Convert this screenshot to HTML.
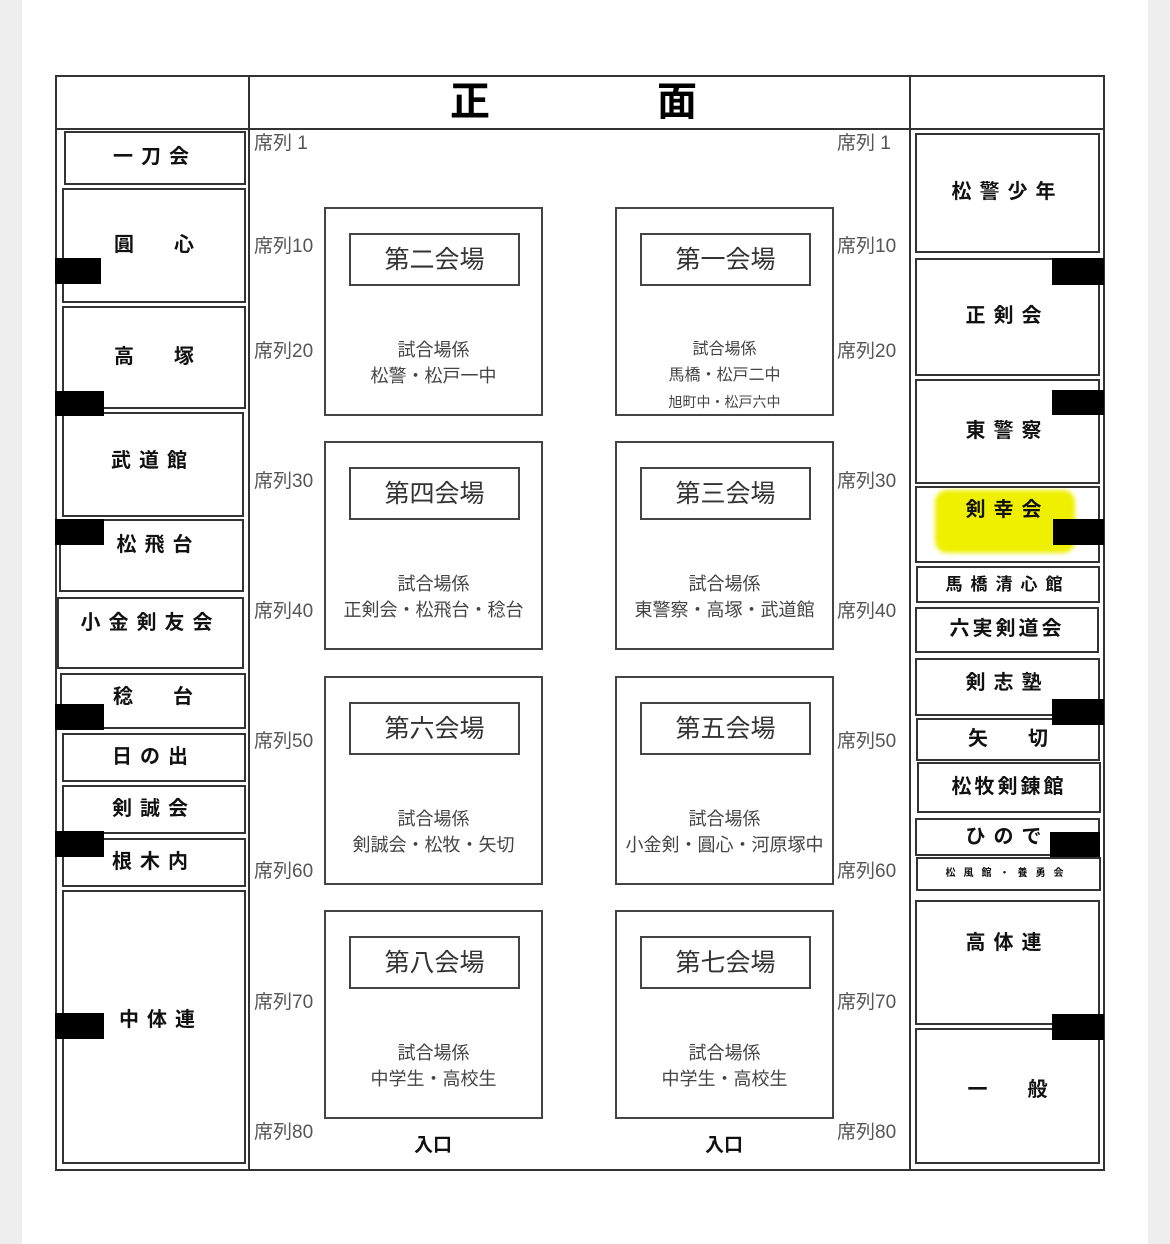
<!DOCTYPE html>
<html><head><meta charset="utf-8"><style>
body{margin:0;width:1170px;height:1244px;position:relative;background:#fff;font-family:"Liberation Sans","Noto Sans CJK JP",sans-serif;overflow:hidden}
.a{position:absolute;box-sizing:border-box}
.b{border:2px solid #333;background:#fff;display:flex;align-items:center;justify-content:center;font-weight:bold;font-size:20px;color:#111;letter-spacing:8px;padding-bottom:7px}
.k{background:#000}
.s{position:absolute;font-size:19px;color:#555}
.court{position:absolute;border:2px solid #444;width:219px;height:209px;box-sizing:border-box}
.court .t{position:absolute;left:23px;top:24px;width:171px;height:53px;border:2px solid #444;box-sizing:border-box;display:flex;align-items:center;justify-content:center;font-size:25px;color:#333;padding-bottom:3px}
.court .c{position:absolute;left:0;right:0;top:128px;text-align:center;font-size:18px;color:#444;line-height:26px}
.ent{position:absolute;font-weight:bold;font-size:19px;color:#111}
.h{position:absolute;top:80px;font-size:40px;font-weight:bold;line-height:44px}
</style></head><body>
<div class="a" style="left:0;top:0;width:22px;height:1244px;background:#eee"></div>
<div class="a" style="left:1148px;top:0;width:22px;height:1244px;background:#eee"></div>
<div class="a" style="left:55px;top:75px;width:1050px;height:1096px;border:2px solid #333"></div>
<div class="a" style="left:55px;top:128px;width:1050px;height:2px;background:#333"></div>
<div class="a" style="left:248px;top:75px;width:2px;height:1096px;background:#333"></div>
<div class="a" style="left:909px;top:75px;width:2px;height:1096px;background:#333"></div>
<div class="h" style="left:450px">正</div>
<div class="h" style="left:657px">面</div>

<div class="a b" style="left:64px;top:131px;width:182px;height:54px">一刀会</div>
<div class="a b" style="left:62px;top:188px;width:184px;height:115px;letter-spacing:40px;padding-left:40px">圓心</div>
<div class="a b" style="left:62px;top:306px;width:184px;height:103px;letter-spacing:40px;padding-left:40px">高塚</div>
<div class="a b" style="left:62px;top:412px;width:182px;height:105px;align-items:flex-start;padding-top:30px">武道館</div>
<div class="a b" style="left:59px;top:519px;width:185px;height:73px;align-items:flex-start;padding-top:7px;padding-left:14px">松飛台</div>
<div class="a b" style="left:57px;top:597px;width:187px;height:72px;align-items:flex-start;padding-top:7px">小金剣友会</div>
<div class="a b" style="left:60px;top:673px;width:186px;height:56px;align-items:flex-start;padding-top:5px;letter-spacing:40px;padding-left:40px">稔台</div>
<div class="a b" style="left:62px;top:733px;width:184px;height:49px">日の出</div>
<div class="a b" style="left:62px;top:785px;width:184px;height:49px">剣誠会</div>
<div class="a b" style="left:62px;top:838px;width:184px;height:49px">根木内</div>
<div class="a b" style="left:62px;top:890px;width:184px;height:274px;padding-left:14px;padding-bottom:20px">中体連</div>
<div class="a k" style="left:55px;top:258px;width:46px;height:26px"></div>
<div class="a k" style="left:55px;top:391px;width:49px;height:25px"></div>
<div class="a k" style="left:55px;top:519px;width:49px;height:26px"></div>
<div class="a k" style="left:55px;top:704px;width:49px;height:26px"></div>
<div class="a k" style="left:55px;top:831px;width:49px;height:26px"></div>
<div class="a k" style="left:55px;top:1013px;width:49px;height:26px"></div>

<div class="a" style="left:935px;top:490px;width:140px;height:63px;background:#eef000;border-radius:12px;filter:blur(2px)"></div>
<div class="a b" style="left:915px;top:133px;width:185px;height:120px">松警少年</div>
<div class="a b" style="left:915px;top:258px;width:185px;height:118px">正剣会</div>
<div class="a b" style="left:915px;top:379px;width:185px;height:105px">東警察</div>
<div class="a b" style="left:915px;top:486px;width:185px;height:77px;background:transparent;align-items:flex-start;padding-top:5px">剣幸会</div>
<div class="a b" style="left:916px;top:566px;width:184px;height:37px;font-size:17px;padding-bottom:4px">馬橋清心館</div>
<div class="a b" style="left:915px;top:607px;width:184px;height:46px;letter-spacing:3px;padding-bottom:8px">六実剣道会</div>
<div class="a b" style="left:915px;top:658px;width:185px;height:58px;align-items:flex-start;padding-top:6px">剣志塾</div>
<div class="a b" style="left:916px;top:718px;width:184px;height:43px;letter-spacing:40px;padding-left:40px">矢切</div>
<div class="a b" style="left:917px;top:762px;width:184px;height:51px;letter-spacing:3px">松牧剣錬館</div>
<div class="a b" style="left:915px;top:818px;width:185px;height:38px;padding-bottom:6px">ひので</div>
<div class="a b" style="left:916px;top:857px;width:185px;height:34px;font-size:10px;align-items:flex-start;padding-top:5px">松風館・養勇会</div>
<div class="a b" style="left:915px;top:900px;width:185px;height:125px;align-items:flex-start;padding-top:24px">高体連</div>
<div class="a b" style="left:915px;top:1028px;width:185px;height:136px;letter-spacing:40px;padding-left:40px;padding-bottom:18px">一般</div>
<div class="a k" style="left:1052px;top:258px;width:52px;height:27px"></div>
<div class="a k" style="left:1052px;top:390px;width:52px;height:25px"></div>
<div class="a k" style="left:1053px;top:519px;width:51px;height:26px"></div>
<div class="a k" style="left:1052px;top:699px;width:52px;height:26px"></div>
<div class="a k" style="left:1050px;top:832px;width:50px;height:25px"></div>
<div class="a k" style="left:1052px;top:1014px;width:52px;height:26px"></div>

<div class="s" style="left:254px;top:128px">席列 1</div><div class="s" style="left:837px;top:128px">席列 1</div>
<div class="s" style="left:254px;top:231px">席列10</div><div class="s" style="left:837px;top:231px">席列10</div>
<div class="s" style="left:254px;top:336px">席列20</div><div class="s" style="left:837px;top:336px">席列20</div>
<div class="s" style="left:254px;top:466px">席列30</div><div class="s" style="left:837px;top:466px">席列30</div>
<div class="s" style="left:254px;top:596px">席列40</div><div class="s" style="left:837px;top:596px">席列40</div>
<div class="s" style="left:254px;top:726px">席列50</div><div class="s" style="left:837px;top:726px">席列50</div>
<div class="s" style="left:254px;top:856px">席列60</div><div class="s" style="left:837px;top:856px">席列60</div>
<div class="s" style="left:254px;top:987px">席列70</div><div class="s" style="left:837px;top:987px">席列70</div>
<div class="s" style="left:254px;top:1117px">席列80</div><div class="s" style="left:837px;top:1117px">席列80</div>

<div class="court" style="left:324px;top:207px"><div class="t">第二会場</div><div class="c">試合場係<br>松警・松戸一中</div></div>
<div class="court" style="left:615px;top:207px"><div class="t">第一会場</div><div class="c" style="font-size:16px">試合場係<br>馬橋・松戸二中<br><span style="font-size:14px">旭町中・松戸六中</span></div></div>
<div class="court" style="left:324px;top:441px"><div class="t">第四会場</div><div class="c">試合場係<br>正剣会・松飛台・稔台</div></div>
<div class="court" style="left:615px;top:441px"><div class="t">第三会場</div><div class="c">試合場係<br>東警察・高塚・武道館</div></div>
<div class="court" style="left:324px;top:676px"><div class="t">第六会場</div><div class="c">試合場係<br>剣誠会・松牧・矢切</div></div>
<div class="court" style="left:615px;top:676px"><div class="t">第五会場</div><div class="c">試合場係<br>小金剣・圓心・河原塚中</div></div>
<div class="court" style="left:324px;top:910px"><div class="t">第八会場</div><div class="c">試合場係<br>中学生・高校生</div></div>
<div class="court" style="left:615px;top:910px"><div class="t">第七会場</div><div class="c">試合場係<br>中学生・高校生</div></div>
<div class="ent" style="left:414px;top:1130px">入口</div>
<div class="ent" style="left:705px;top:1130px">入口</div>
</body></html>
